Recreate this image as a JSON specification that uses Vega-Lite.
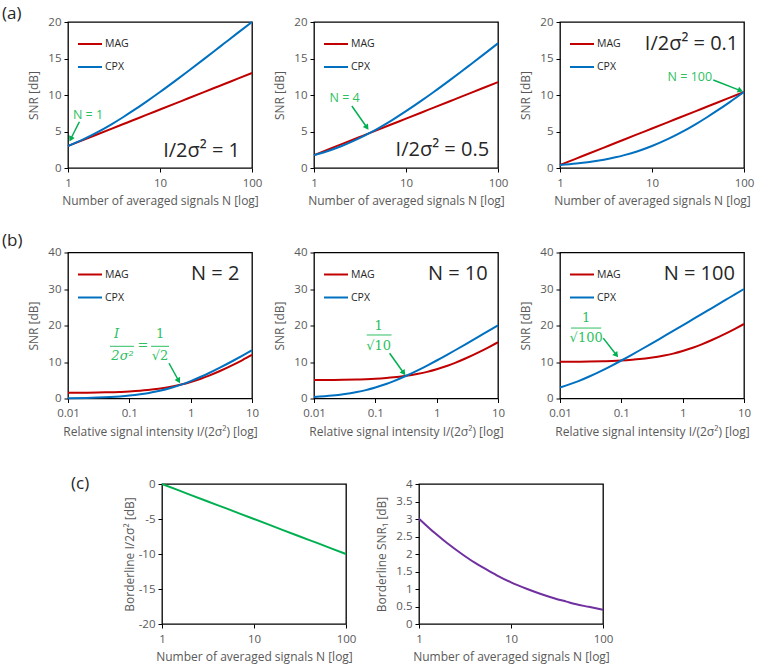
{
  "$schema": "https://vega.github.io/schema/vega-lite/v6.json",
  "padding": {"left": 1, "top": 4, "right": 0, "bottom": 0},
  "config": {
    "font": "Open Sans",
    "view": {"stroke": "#000", "strokeWidth": 1.3},
    "axis": {"domain": false, "grid": false, "tickColor": "#000", "tickSize": 4, "tickWidth": 1, "labelColor": "#595959", "labelFontSize": 11.5, "titleColor": "#595959", "titleFontSize": 12, "titleFontWeight": "normal", "labelPadding": 5, "labelFlush": false, "labelOverlap": false},
    "axisY": {"titlePadding": 7, "labelPadding": 3},
    "axisX": {"titlePadding": 7},
    "legend": {"symbolType": "stroke", "symbolSize": 576, "symbolStrokeWidth": 2, "labelFontSize": 10.5, "labelColor": "#262626", "offset": 9, "padding": 0, "rowPadding": 4, "labelOffset": 2},
    "title": {"fontSize": 17, "fontWeight": "normal", "color": "#262626", "anchor": "start", "frame": "group", "offset": 0}
  },
  "datasets": {
    "a1": [{"N":1,"MAG":3.01,"CPX":3.01},{"N":1.5,"MAG":3.89,"CPX":3.98},{"N":2,"MAG":4.52,"CPX":4.77},{"N":3,"MAG":5.40,"CPX":6.02},{"N":4,"MAG":6.02,"CPX":6.99},{"N":5,"MAG":6.50,"CPX":7.78},{"N":7,"MAG":7.24,"CPX":9.03},{"N":10,"MAG":8.01,"CPX":10.41},{"N":15,"MAG":8.89,"CPX":12.04},{"N":20,"MAG":9.52,"CPX":13.22},{"N":30,"MAG":10.40,"CPX":14.91},{"N":40,"MAG":11.02,"CPX":16.13},{"N":50,"MAG":11.50,"CPX":17.08},{"N":70,"MAG":12.24,"CPX":18.51},{"N":100,"MAG":13.01,"CPX":20.0}],
    "a2": [{"N":1,"MAG":1.76,"CPX":1.76},{"N":1.5,"MAG":2.64,"CPX":2.43},{"N":2,"MAG":3.27,"CPX":3.01},{"N":3,"MAG":4.15,"CPX":3.98},{"N":4,"MAG":4.77,"CPX":4.77},{"N":5,"MAG":5.26,"CPX":5.44},{"N":7,"MAG":5.99,"CPX":6.53},{"N":10,"MAG":6.76,"CPX":7.78},{"N":15,"MAG":7.64,"CPX":9.29},{"N":20,"MAG":8.27,"CPX":10.41},{"N":30,"MAG":9.15,"CPX":12.04},{"N":40,"MAG":9.77,"CPX":13.22},{"N":50,"MAG":10.26,"CPX":14.15},{"N":70,"MAG":10.99,"CPX":15.56},{"N":100,"MAG":11.76,"CPX":17.08}],
    "a3": [{"N":1,"MAG":0.41,"CPX":0.41},{"N":1.5,"MAG":1.29,"CPX":0.61},{"N":2,"MAG":1.92,"CPX":0.79},{"N":3,"MAG":2.80,"CPX":1.14},{"N":4,"MAG":3.42,"CPX":1.46},{"N":5,"MAG":3.91,"CPX":1.76},{"N":7,"MAG":4.64,"CPX":2.30},{"N":10,"MAG":5.41,"CPX":3.01},{"N":15,"MAG":6.29,"CPX":3.98},{"N":20,"MAG":6.92,"CPX":4.77},{"N":30,"MAG":7.80,"CPX":6.02},{"N":40,"MAG":8.42,"CPX":6.99},{"N":50,"MAG":8.91,"CPX":7.78},{"N":70,"MAG":9.64,"CPX":9.03},{"N":100,"MAG":10.41,"CPX":10.41}],
    "b1": [{"r":0.01,"MAG":1.55,"CPX":0.09},{"r":0.02,"MAG":1.59,"CPX":0.17},{"r":0.03,"MAG":1.63,"CPX":0.25},{"r":0.05,"MAG":1.72,"CPX":0.41},{"r":0.07,"MAG":1.80,"CPX":0.57},{"r":0.1,"MAG":1.92,"CPX":0.79},{"r":0.15,"MAG":2.11,"CPX":1.14},{"r":0.2,"MAG":2.30,"CPX":1.46},{"r":0.3,"MAG":2.64,"CPX":2.04},{"r":0.5,"MAG":3.27,"CPX":3.01},{"r":0.7,"MAG":3.81,"CPX":3.80},{"r":1,"MAG":4.52,"CPX":4.77},{"r":1.5,"MAG":5.48,"CPX":6.02},{"r":2,"MAG":6.28,"CPX":6.99},{"r":3,"MAG":7.53,"CPX":8.45},{"r":5,"MAG":9.29,"CPX":10.41},{"r":7,"MAG":10.54,"CPX":11.76},{"r":10,"MAG":11.92,"CPX":13.22}],
    "b2": [{"r":0.01,"MAG":5.04,"CPX":0.41},{"r":0.02,"MAG":5.09,"CPX":0.79},{"r":0.03,"MAG":5.13,"CPX":1.14},{"r":0.05,"MAG":5.21,"CPX":1.76},{"r":0.07,"MAG":5.29,"CPX":2.30},{"r":0.1,"MAG":5.41,"CPX":3.01},{"r":0.15,"MAG":5.61,"CPX":3.98},{"r":0.2,"MAG":5.79,"CPX":4.77},{"r":0.3,"MAG":6.14,"CPX":6.02},{"r":0.5,"MAG":6.76,"CPX":7.78},{"r":0.7,"MAG":7.30,"CPX":9.03},{"r":1,"MAG":8.01,"CPX":10.41},{"r":1.5,"MAG":8.98,"CPX":12.04},{"r":2,"MAG":9.77,"CPX":13.22},{"r":3,"MAG":11.02,"CPX":14.91},{"r":5,"MAG":12.78,"CPX":17.08},{"r":7,"MAG":14.03,"CPX":18.51},{"r":10,"MAG":15.41,"CPX":20.04}],
    "b3": [{"r":0.01,"MAG":10.04,"CPX":3.01},{"r":0.02,"MAG":10.09,"CPX":4.77},{"r":0.03,"MAG":10.13,"CPX":6.02},{"r":0.05,"MAG":10.21,"CPX":7.78},{"r":0.07,"MAG":10.29,"CPX":9.03},{"r":0.1,"MAG":10.41,"CPX":10.41},{"r":0.15,"MAG":10.61,"CPX":12.04},{"r":0.2,"MAG":10.79,"CPX":13.22},{"r":0.3,"MAG":11.14,"CPX":14.91},{"r":0.5,"MAG":11.76,"CPX":17.08},{"r":0.7,"MAG":12.30,"CPX":18.51},{"r":1,"MAG":13.01,"CPX":20.04},{"r":1.5,"MAG":13.98,"CPX":21.79},{"r":2,"MAG":14.77,"CPX":23.03},{"r":3,"MAG":16.02,"CPX":24.79},{"r":5,"MAG":17.78,"CPX":27.00},{"r":7,"MAG":19.03,"CPX":28.46},{"r":10,"MAG":20.41,"CPX":30.00}],
    "c1": [{"N":1,"v":0},{"N":1.5,"v":-0.88},{"N":2,"v":-1.51},{"N":3,"v":-2.39},{"N":4,"v":-3.01},{"N":5,"v":-3.49},{"N":7,"v":-4.23},{"N":10,"v":-5},{"N":15,"v":-5.88},{"N":20,"v":-6.51},{"N":30,"v":-7.39},{"N":40,"v":-8.01},{"N":50,"v":-8.49},{"N":70,"v":-9.23},{"N":100,"v":-10}],
    "c2": [{"N":1,"v":3.01},{"N":1.5,"v":2.59},{"N":2,"v":2.32},{"N":3,"v":1.98},{"N":4,"v":1.76},{"N":5,"v":1.61},{"N":7,"v":1.39},{"N":10,"v":1.19},{"N":15,"v":1.00},{"N":20,"v":0.88},{"N":30,"v":0.73},{"N":40,"v":0.64},{"N":50,"v":0.57},{"N":70,"v":0.49},{"N":100,"v":0.41}]
  },
  "resolve": {"scale": {"color": "independent"}, "legend": {"color": "independent"}},
  "spacing": 22.5,
  "vconcat": [
    {
      "bounds": "flush",
      "spacing": 62,
      "resolve": {"scale": {"color": "independent"}, "legend": {"color": "independent"}},
      "hconcat": [
        {
          "width": 184, "height": 146,
          "title": {"text": "(a)", "dx": -66, "dy": 11},
          "encoding": {
            "x": {"field": "N", "type": "quantitative", "scale": {"type": "log", "domain": [1, 100], "nice": false}, "axis": {"title": "Number of averaged signals N [log]", "values": [1, 10, 100], "labelExpr": "'' + datum.value"}},
            "y": {"field": "SNR", "type": "quantitative", "scale": {"domain": [0, 20], "nice": false, "zero": false}, "axis": {"title": "SNR [dB]", "values": [0, 5, 10, 15, 20]}}
          },
          "layer": [
            {"data": {"name": "a1"}, "transform": [{"fold": ["MAG", "CPX"], "as": ["series", "SNR"]}], "mark": {"type": "line", "strokeWidth": 2, "interpolate": "monotone"}, "encoding": {"color": {"field": "series", "type": "nominal", "scale": {"domain": ["MAG", "CPX"], "range": ["#C00000", "#0070C0"]}, "legend": {"title": null, "orient": "top-left"}}}},
            {"data": {"values": [{"N": 74, "SNR": 1.55, "label": "I/2σ² = 1"}]}, "mark": {"type": "text", "align": "right", "baseline": "alphabetic", "fontSize": 20, "color": "#262626"}, "encoding": {"text": {"field": "label"}}},
            {"data": {"values": [{"N": 1.33, "SNR": 6.34, "N2": 1.07, "SNR2": 3.97}]}, "mark": {"type": "rule", "color": "#00B050", "strokeWidth": 1.5}, "encoding": {"x2": {"field": "N2"}, "y2": {"field": "SNR2"}}},
            {"data": {"values": [{"N": 1.07, "SNR": 3.97}]}, "mark": {"type": "point", "shape": "triangle-up", "angle": 206.6, "filled": true, "opacity": 1, "color": "#00B050", "size": 40}},
            {"data": {"values": [{"N": 1.65, "SNR": 7.26, "label": "N = 1"}]}, "mark": {"type": "text", "color": "#2EBF62", "fontSize": 12.5}, "encoding": {"text": {"field": "label"}}}
          ]
        },
        {
          "width": 184, "height": 146,
          "encoding": {
            "x": {"field": "N", "type": "quantitative", "scale": {"type": "log", "domain": [1, 100], "nice": false}, "axis": {"title": "Number of averaged signals N [log]", "values": [1, 10, 100], "labelExpr": "'' + datum.value"}},
            "y": {"field": "SNR", "type": "quantitative", "scale": {"domain": [0, 20], "nice": false, "zero": false}, "axis": {"title": "SNR [dB]", "values": [0, 5, 10, 15, 20]}}
          },
          "layer": [
            {"data": {"name": "a2"}, "transform": [{"fold": ["MAG", "CPX"], "as": ["series", "SNR"]}], "mark": {"type": "line", "strokeWidth": 2, "interpolate": "monotone"}, "encoding": {"color": {"field": "series", "type": "nominal", "scale": {"domain": ["MAG", "CPX"], "range": ["#C00000", "#0070C0"]}, "legend": {"title": null, "orient": "top-left"}}}},
            {"data": {"values": [{"N": 80, "SNR": 1.64, "label": "I/2σ² = 0.5"}]}, "mark": {"type": "text", "align": "right", "baseline": "alphabetic", "fontSize": 20, "color": "#262626"}, "encoding": {"text": {"field": "label"}}},
            {"data": {"values": [{"N": 2.58, "SNR": 8.49, "N2": 3.76, "SNR2": 5.55}]}, "mark": {"type": "rule", "color": "#00B050", "strokeWidth": 1.5}, "encoding": {"x2": {"field": "N2"}, "y2": {"field": "SNR2"}}},
            {"data": {"values": [{"N": 3.76, "SNR": 5.55}]}, "mark": {"type": "point", "shape": "triangle-up", "angle": 145.3, "filled": true, "opacity": 1, "color": "#00B050", "size": 40}},
            {"data": {"values": [{"N": 2.15, "SNR": 9.55, "label": "N = 4"}]}, "mark": {"type": "text", "color": "#2EBF62", "fontSize": 12.5}, "encoding": {"text": {"field": "label"}}}
          ]
        },
        {
          "width": 184, "height": 146,
          "encoding": {
            "x": {"field": "N", "type": "quantitative", "scale": {"type": "log", "domain": [1, 100], "nice": false}, "axis": {"title": "Number of averaged signals N [log]", "values": [1, 10, 100], "labelExpr": "'' + datum.value"}},
            "y": {"field": "SNR", "type": "quantitative", "scale": {"domain": [0, 20], "nice": false, "zero": false}, "axis": {"title": "SNR [dB]", "values": [0, 5, 10, 15, 20]}}
          },
          "layer": [
            {"data": {"name": "a3"}, "transform": [{"fold": ["MAG", "CPX"], "as": ["series", "SNR"]}], "mark": {"type": "line", "strokeWidth": 2, "interpolate": "monotone"}, "encoding": {"color": {"field": "series", "type": "nominal", "scale": {"domain": ["MAG", "CPX"], "range": ["#C00000", "#0070C0"]}, "legend": {"title": null, "orient": "top-left"}}}},
            {"data": {"values": [{"N": 86.7, "SNR": 16.1, "label": "I/2σ² = 0.1"}]}, "mark": {"type": "text", "align": "right", "baseline": "alphabetic", "fontSize": 20, "color": "#262626"}, "encoding": {"text": {"field": "label"}}},
            {"data": {"values": [{"N": 46.4, "SNR": 12.05, "N2": 91.6, "SNR2": 10.6}]}, "mark": {"type": "rule", "color": "#00B050", "strokeWidth": 1.5}, "encoding": {"x2": {"field": "N2"}, "y2": {"field": "SNR2"}}},
            {"data": {"values": [{"N": 91.6, "SNR": 10.6}]}, "mark": {"type": "point", "shape": "triangle-up", "angle": 111.3, "filled": true, "opacity": 1, "color": "#00B050", "size": 40}},
            {"data": {"values": [{"N": 25.8, "SNR": 12.5, "label": "N = 100"}]}, "mark": {"type": "text", "color": "#2EBF62", "fontSize": 12.5}, "encoding": {"text": {"field": "label"}}}
          ]
        }
      ]
    },
    {
      "bounds": "flush",
      "spacing": 62,
      "resolve": {"scale": {"color": "independent"}, "legend": {"color": "independent"}},
      "hconcat": [
        {
          "width": 184, "height": 146,
          "title": {"text": "(b)", "dx": -66, "dy": 7},
          "encoding": {
            "x": {"field": "r", "type": "quantitative", "scale": {"type": "log", "domain": [0.01, 10], "nice": false}, "axis": {"title": "Relative signal intensity I/(2σ²) [log]", "values": [0.01, 0.1, 1, 10], "labelExpr": "'' + datum.value"}},
            "y": {"field": "SNR", "type": "quantitative", "scale": {"domain": [0, 40], "nice": false}, "axis": {"title": "SNR [dB]", "values": [0, 10, 20, 30, 40]}}
          },
          "layer": [
            {"data": {"name": "b1"}, "transform": [{"fold": ["MAG", "CPX"], "as": ["series", "SNR"]}], "mark": {"type": "line", "strokeWidth": 2, "interpolate": "monotone"}, "encoding": {"color": {"field": "series", "type": "nominal", "scale": {"domain": ["MAG", "CPX"], "range": ["#C00000", "#0070C0"]}, "legend": {"title": null, "orient": "top-left"}}}},
            {"data": {"values": [{"r": 6.23, "SNR": 32.4, "label": "N = 2"}]}, "mark": {"type": "text", "align": "right", "baseline": "alphabetic", "fontSize": 20, "color": "#262626"}, "encoding": {"text": {"field": "label"}}},
            {"data": {"values": [{"r": 0.444, "SNR": 9.66, "r2": 0.637, "SNR2": 4.86}]}, "mark": {"type": "rule", "color": "#00B050", "strokeWidth": 1.5}, "encoding": {"x2": {"field": "r2"}, "y2": {"field": "SNR2"}}},
            {"data": {"values": [{"r": 0.637, "SNR": 4.86}]}, "mark": {"type": "point", "shape": "triangle-up", "angle": 151.2, "filled": true, "opacity": 1, "color": "#00B050", "size": 40}},
            {"data": {"values": [{"r": 0.0618, "SNR": 17.7, "label": "I"}, {"r": 0.0775, "SNR": 11.7, "label": "2σ²"}]}, "mark": {"type": "text", "color": "#2EBF62", "font": "DejaVu Serif", "fontStyle": "italic", "fontSize": 13}, "encoding": {"text": {"field": "label"}}},
            {"data": {"values": [{"r": 0.167, "SNR": 14.6, "label": "="}, {"r": 0.317, "SNR": 17.7, "label": "1"}, {"r": 0.317, "SNR": 11.6, "label": "√2"}]}, "mark": {"type": "text", "color": "#2EBF62", "font": "DejaVu Serif", "fontSize": 13}, "encoding": {"text": {"field": "label"}}},
            {"data": {"values": [{"r": 0.0484, "r2": 0.119, "SNR": 14.3}, {"r": 0.226, "r2": 0.444, "SNR": 14.3}]}, "mark": {"type": "rule", "color": "#2EBF62", "strokeWidth": 1}, "encoding": {"x2": {"field": "r2"}}}
          ]
        },
        {
          "width": 184, "height": 146,
          "encoding": {
            "x": {"field": "r", "type": "quantitative", "scale": {"type": "log", "domain": [0.01, 10], "nice": false}, "axis": {"title": "Relative signal intensity I/(2σ²) [log]", "values": [0.01, 0.1, 1, 10], "labelExpr": "'' + datum.value"}},
            "y": {"field": "SNR", "type": "quantitative", "scale": {"domain": [0, 40], "nice": false}, "axis": {"title": "SNR [dB]", "values": [0, 10, 20, 30, 40]}}
          },
          "layer": [
            {"data": {"name": "b2"}, "transform": [{"fold": ["MAG", "CPX"], "as": ["series", "SNR"]}], "mark": {"type": "line", "strokeWidth": 2, "interpolate": "monotone"}, "encoding": {"color": {"field": "series", "type": "nominal", "scale": {"domain": ["MAG", "CPX"], "range": ["#C00000", "#0070C0"]}, "legend": {"title": null, "orient": "top-left"}}}},
            {"data": {"values": [{"r": 6.8, "SNR": 32.4, "label": "N = 10"}]}, "mark": {"type": "text", "align": "right", "baseline": "alphabetic", "fontSize": 20, "color": "#262626"}, "encoding": {"text": {"field": "label"}}},
            {"data": {"values": [{"r": 0.171, "SNR": 12.41, "r2": 0.29, "SNR2": 7.0}]}, "mark": {"type": "rule", "color": "#00B050", "strokeWidth": 1.5}, "encoding": {"x2": {"field": "r2"}, "y2": {"field": "SNR2"}}},
            {"data": {"values": [{"r": 0.29, "SNR": 7.0}]}, "mark": {"type": "point", "shape": "triangle-up", "angle": 144, "filled": true, "opacity": 1, "color": "#00B050", "size": 40}},
            {"data": {"values": [{"r": 0.113, "SNR": 19.9, "label": "1"}, {"r": 0.113, "SNR": 14.3, "label": "√10"}]}, "mark": {"type": "text", "color": "#2EBF62", "font": "DejaVu Serif", "fontSize": 13}, "encoding": {"text": {"field": "label"}}},
            {"data": {"values": [{"r": 0.0723, "r2": 0.184, "SNR": 17.4}]}, "mark": {"type": "rule", "color": "#2EBF62", "strokeWidth": 1}, "encoding": {"x2": {"field": "r2"}}}
          ]
        },
        {
          "width": 184, "height": 146,
          "encoding": {
            "x": {"field": "r", "type": "quantitative", "scale": {"type": "log", "domain": [0.01, 10], "nice": false}, "axis": {"title": "Relative signal intensity I/(2σ²) [log]", "values": [0.01, 0.1, 1, 10], "labelExpr": "'' + datum.value"}},
            "y": {"field": "SNR", "type": "quantitative", "scale": {"domain": [0, 40], "nice": false}, "axis": {"title": "SNR [dB]", "values": [0, 10, 20, 30, 40]}}
          },
          "layer": [
            {"data": {"name": "b3"}, "transform": [{"fold": ["MAG", "CPX"], "as": ["series", "SNR"]}], "mark": {"type": "line", "strokeWidth": 2, "interpolate": "monotone"}, "encoding": {"color": {"field": "series", "type": "nominal", "scale": {"domain": ["MAG", "CPX"], "range": ["#C00000", "#0070C0"]}, "legend": {"title": null, "orient": "top-left"}}}},
            {"data": {"values": [{"r": 7.1, "SNR": 32.5, "label": "N = 100"}]}, "mark": {"type": "text", "align": "right", "baseline": "alphabetic", "fontSize": 20, "color": "#262626"}, "encoding": {"text": {"field": "label"}}},
            {"data": {"values": [{"r": 0.0507, "SNR": 16.55, "r2": 0.0832, "SNR2": 11.9}]}, "mark": {"type": "rule", "color": "#00B050", "strokeWidth": 1.5}, "encoding": {"x2": {"field": "r2"}, "y2": {"field": "SNR2"}}},
            {"data": {"values": [{"r": 0.0832, "SNR": 11.9}]}, "mark": {"type": "point", "shape": "triangle-up", "angle": 141.7, "filled": true, "opacity": 1, "color": "#00B050", "size": 40}},
            {"data": {"values": [{"r": 0.0267, "SNR": 22.1, "label": "1"}, {"r": 0.0267, "SNR": 16.6, "label": "√100"}]}, "mark": {"type": "text", "color": "#2EBF62", "font": "DejaVu Serif", "fontSize": 13}, "encoding": {"text": {"field": "label"}}},
            {"data": {"values": [{"r": 0.0151, "r2": 0.047, "SNR": 19.3}]}, "mark": {"type": "rule", "color": "#2EBF62", "strokeWidth": 1}, "encoding": {"x2": {"field": "r2"}}}
          ]
        }
      ]
    },
    {
      "bounds": "flush",
      "spacing": 73,
      "hconcat": [
        {
          "width": 21, "height": 140,
          "view": {"stroke": null},
          "data": {"values": [{"t": ""}]},
          "mark": {"type": "text"},
          "encoding": {"text": {"field": "t"}}
        },
        {
          "width": 184, "height": 140,
          "title": {"text": "(c)", "dx": -91, "dy": 19},
          "data": {"name": "c1"},
          "mark": {"type": "line", "strokeWidth": 2, "color": "#00B050"},
          "encoding": {
            "x": {"field": "N", "type": "quantitative", "scale": {"type": "log", "domain": [1, 100], "nice": false}, "axis": {"title": "Number of averaged signals N [log]", "values": [1, 10, 100], "labelExpr": "'' + datum.value"}},
            "y": {"field": "v", "type": "quantitative", "scale": {"domain": [-20, 0], "nice": false}, "axis": {"title": "Borderline I/2σ² [dB]", "titlePadding": 2, "values": [-20, -15, -10, -5, 0], "labelExpr": "'' + datum.value"}}
          }
        },
        {
          "width": 184, "height": 140,
          "title": {"text": " ", "dy": 6},
          "data": {"name": "c2"},
          "mark": {"type": "line", "strokeWidth": 2, "color": "#7030A0", "interpolate": "monotone"},
          "encoding": {
            "x": {"field": "N", "type": "quantitative", "scale": {"type": "log", "domain": [1, 100], "nice": false}, "axis": {"title": "Number of averaged signals N [log]", "values": [1, 10, 100], "labelExpr": "'' + datum.value"}},
            "y": {"field": "v", "type": "quantitative", "scale": {"domain": [0, 4], "nice": false}, "axis": {"title": "Borderline SNR₁ [dB]", "values": [0, 0.5, 1, 1.5, 2, 2.5, 3, 3.5, 4], "labelExpr": "'' + datum.value"}}
          }
        }
      ]
    }
  ]
}
